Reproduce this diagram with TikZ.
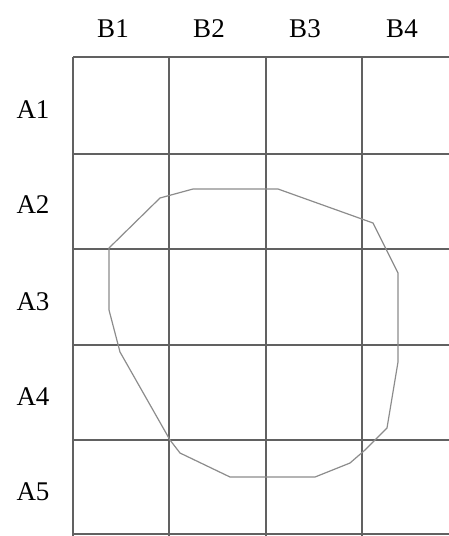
\documentclass[tikz,border=0pt]{standalone}
\usepackage{fontspec}
\setmainfont{Liberation Serif}
\begin{document}
\begin{tikzpicture}[x=1pt,y=-1pt,
  gridline/.style={draw=black!62,line width=1.1pt},
  outline/.style={draw=black!45,line width=1.2pt,line join=round},
  lbl/.style={font=\fontsize{27}{30}\selectfont,inner sep=0pt,anchor=base}]
\useasboundingbox (0,0) rectangle (449,536);
% grid
\foreach \x in {73,169,266,362}
  \draw[gridline] (\x,57) -- (\x,536);
\foreach \y in {57,154,249,345,440,534}
  \draw[gridline] (73,\y) -- (449,\y);
% labels
\node[lbl] (b1) at (113,37) {B1};
\node[lbl] (b2) at (209,37) {B2};
\node[lbl] (b3) at (305,37) {B3};
\node[lbl] (b4) at (402,37) {B4};
\node[lbl] (a1) at (33,118) {A1};
\node[lbl] (a2) at (33,213) {A2};
\node[lbl] (a3) at (33,310) {A3};
\node[lbl] (a4) at (33,405) {A4};
\node[lbl] (a5) at (33,500) {A5};
% closed outline
\draw[outline] (109,248) -- (160,198) -- (193,189) -- (278,189) -- (373,223)
  -- (398,273) -- (398,362) -- (387,428) -- (365,450) -- (350,463)
  -- (315,477) -- (230,477) -- (180,453) -- (170,440) -- (120,352)
  -- (109,310) -- cycle;
\end{tikzpicture}
\end{document}
